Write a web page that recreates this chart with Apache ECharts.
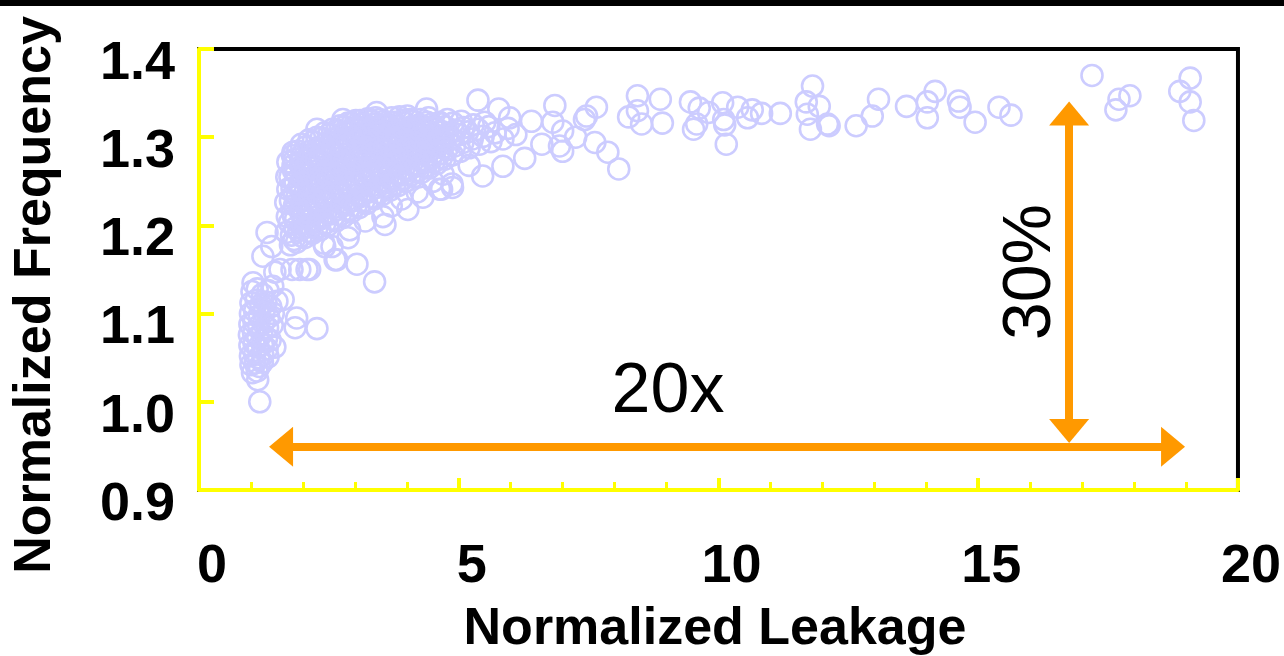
<!DOCTYPE html>
<html>
<head>
<meta charset="utf-8">
<script src="https://cdn.jsdelivr.net/npm/echarts@6/dist/echarts.min.js"></script>
<style>
  html, body { margin: 0; padding: 0; background: #fff; }
  #chart { width: 1284px; height: 656px; }
</style>
</head>
<body>
<div id="chart"></div>
<script>
// Each chip: [normalized leakage, normalized frequency]

// Low-leakage, low-frequency tail
const tailChips = [
  [1.02,1.125],[1.12,1.128],[1.22,1.122],[1.33,1.126],[1.42,1.131],
  [1.00,1.112],[1.10,1.115],[1.19,1.110],[1.29,1.113],[1.38,1.108],[1.50,1.114],[1.62,1.116],
  [0.99,1.100],[1.07,1.103],[1.16,1.098],[1.25,1.101],[1.34,1.096],[1.43,1.100],
  [0.98,1.088],[1.06,1.090],[1.15,1.086],[1.24,1.089],[1.32,1.084],[1.41,1.087],
  [0.97,1.076],[1.05,1.078],[1.13,1.074],[1.21,1.077],[1.30,1.072],[1.37,1.070],
  [0.98,1.064],[1.06,1.066],[1.14,1.062],[1.22,1.065],[1.31,1.060],[1.46,1.062],
  [0.99,1.052],[1.07,1.054],[1.15,1.050],[1.23,1.053],[1.33,1.051],
  [1.00,1.042],[1.08,1.044],[1.16,1.040],[1.22,1.045],
  [1.03,1.033],[1.12,1.035],[1.13,1.025],[1.17,1.000],
  [1.88,1.095],[1.85,1.084],[2.27,1.083]
];

// Main body of the distribution
const mainChips = [
  [1.68,1.192],[1.70,1.210],[1.67,1.226],[1.71,1.241],[1.69,1.255],
  [1.76,1.178],[1.78,1.189],[1.74,1.203],[1.80,1.215],[1.76,1.228],[1.79,1.242],[1.75,1.255],[1.81,1.268],[1.80,1.279],
  [1.88,1.181],[1.92,1.194],[1.86,1.207],[1.94,1.219],[1.89,1.233],[1.93,1.246],[1.87,1.259],[1.95,1.271],[1.90,1.284],
  [2.03,1.186],[2.08,1.198],[2.01,1.211],[2.10,1.224],[2.04,1.237],[2.09,1.250],[2.02,1.263],[2.07,1.276],[2.05,1.289],
  [2.18,1.191],[2.22,1.204],[2.16,1.217],[2.24,1.229],[2.19,1.242],[2.23,1.255],[2.17,1.268],[2.21,1.281],[2.20,1.295],
  [2.33,1.195],[2.37,1.208],[2.31,1.221],[2.39,1.234],[2.34,1.247],[2.38,1.260],[2.32,1.273],[2.36,1.286],[2.35,1.299],
  [2.48,1.200],[2.53,1.213],[2.46,1.226],[2.54,1.238],[2.49,1.251],[2.52,1.264],[2.47,1.277],[2.51,1.290],[2.50,1.303],
  [2.63,1.205],[2.67,1.218],[2.61,1.231],[2.69,1.243],[2.64,1.256],[2.68,1.269],[2.62,1.282],[2.66,1.295],[2.65,1.308],
  [2.78,1.210],[2.82,1.223],[2.76,1.236],[2.84,1.248],[2.79,1.261],[2.83,1.274],[2.77,1.287],[2.81,1.300],[2.80,1.312],
  [2.93,1.215],[2.97,1.228],[2.91,1.241],[2.99,1.253],[2.94,1.266],[2.98,1.279],[2.92,1.292],[2.96,1.305],[2.95,1.316],
  [3.08,1.220],[3.12,1.233],[3.06,1.246],[3.14,1.258],[3.09,1.271],[3.13,1.284],[3.07,1.297],[3.11,1.309],[3.10,1.319],
  [3.23,1.225],[3.27,1.238],[3.21,1.251],[3.29,1.263],[3.24,1.276],[3.28,1.289],[3.22,1.301],[3.26,1.312],[3.25,1.321],
  [3.38,1.230],[3.42,1.243],[3.36,1.256],[3.44,1.268],[3.39,1.281],[3.43,1.293],[3.37,1.305],[3.41,1.315],[3.40,1.322],
  [3.53,1.235],[3.57,1.248],[3.51,1.260],[3.59,1.272],[3.54,1.285],[3.58,1.297],[3.52,1.308],[3.56,1.318],
  [3.68,1.240],[3.72,1.253],[3.66,1.265],[3.74,1.277],[3.69,1.289],[3.73,1.300],[3.67,1.311],[3.71,1.322],
  [3.83,1.245],[3.87,1.257],[3.81,1.269],[3.89,1.281],[3.84,1.292],[3.88,1.303],[3.82,1.313],[3.86,1.323],
  [3.98,1.250],[4.02,1.262],[3.96,1.274],[4.04,1.285],[3.99,1.296],[4.03,1.306],[3.97,1.316],[4.01,1.324],
  [4.13,1.255],[4.17,1.267],[4.11,1.278],[4.19,1.289],[4.14,1.299],[4.18,1.309],[4.12,1.318],
  [4.28,1.260],[4.32,1.272],[4.26,1.283],[4.34,1.293],[4.29,1.303],[4.33,1.312],[4.27,1.320],
  [4.43,1.265],[4.47,1.277],[4.41,1.287],[4.49,1.297],[4.44,1.306],[4.48,1.315],[4.42,1.322],
  [4.58,1.270],[4.62,1.281],[4.56,1.291],[4.64,1.300],[4.59,1.309],[4.63,1.317],
  [4.73,1.275],[4.77,1.286],[4.71,1.295],[4.79,1.304],[4.74,1.312],[4.78,1.320],
  [4.88,1.280],[4.92,1.290],[4.86,1.299],[4.94,1.308],[4.89,1.316],
  [5.03,1.284],[5.08,1.294],[5.01,1.303],[5.09,1.311],[5.05,1.318],
  [5.20,1.288],[5.26,1.298],[5.17,1.306],[5.28,1.314],
  [5.40,1.292],[5.47,1.301],[5.37,1.309],[5.50,1.317],
  [5.62,1.295],[5.70,1.305],[5.58,1.312],
  [5.85,1.298],[5.95,1.310]
];

// Densest part of the main body
const coreChips = [
  [1.83,1.184],[1.85,1.197],[1.82,1.210],[1.84,1.223],[1.83,1.236],[1.85,1.249],[1.82,1.262],[1.84,1.275],
  [1.97,1.188],[1.99,1.201],[1.96,1.214],[1.98,1.228],[1.97,1.241],[1.99,1.254],[1.96,1.267],[1.98,1.280],[1.97,1.292],
  [2.12,1.193],[2.14,1.206],[2.11,1.219],[2.13,1.232],[2.12,1.245],[2.14,1.258],[2.11,1.271],[2.13,1.284],[2.12,1.297],
  [2.27,1.197],[2.29,1.210],[2.26,1.223],[2.28,1.236],[2.27,1.249],[2.29,1.262],[2.26,1.275],[2.28,1.288],[2.27,1.300],
  [2.42,1.202],[2.44,1.215],[2.41,1.228],[2.43,1.241],[2.42,1.254],[2.44,1.267],[2.41,1.280],[2.43,1.293],[2.42,1.305],
  [2.57,1.207],[2.59,1.220],[2.56,1.233],[2.58,1.246],[2.57,1.259],[2.59,1.272],[2.56,1.285],[2.58,1.298],[2.57,1.309],
  [2.72,1.212],[2.74,1.225],[2.71,1.238],[2.73,1.251],[2.72,1.264],[2.74,1.277],[2.71,1.290],[2.73,1.303],[2.72,1.313],
  [2.87,1.217],[2.89,1.230],[2.86,1.243],[2.88,1.256],[2.87,1.269],[2.89,1.282],[2.86,1.295],[2.88,1.307],[2.87,1.316],
  [3.02,1.222],[3.04,1.235],[3.01,1.248],[3.03,1.261],[3.02,1.274],[3.04,1.287],[3.01,1.300],[3.03,1.311],[3.02,1.319],
  [3.17,1.227],[3.19,1.240],[3.16,1.253],[3.18,1.266],[3.17,1.279],[3.19,1.292],[3.16,1.304],[3.18,1.315],
  [3.32,1.232],[3.34,1.245],[3.31,1.258],[3.33,1.271],[3.32,1.284],[3.34,1.296],[3.31,1.308],[3.33,1.318],
  [3.47,1.237],[3.49,1.250],[3.46,1.263],[3.48,1.276],[3.47,1.288],[3.49,1.300],[3.46,1.311],[3.48,1.320],
  [3.62,1.242],[3.64,1.255],[3.61,1.267],[3.63,1.279],[3.62,1.291],[3.64,1.303],[3.61,1.314],
  [3.77,1.247],[3.79,1.259],[3.76,1.271],[3.78,1.283],[3.77,1.295],[3.79,1.306],[3.76,1.317],
  [3.92,1.252],[3.94,1.264],[3.91,1.276],[3.93,1.288],[3.92,1.299],[3.94,1.310],[3.91,1.319],
  [4.07,1.257],[4.09,1.269],[4.06,1.281],[4.08,1.292],[4.07,1.302],[4.09,1.312],[4.06,1.320],
  [4.22,1.262],[4.24,1.274],[4.21,1.285],[4.23,1.295],[4.22,1.305],[4.24,1.314],
  [4.37,1.267],[4.39,1.279],[4.36,1.289],[4.38,1.299],[4.37,1.308],[4.39,1.317],
  [4.52,1.272],[4.54,1.283],[4.51,1.293],[4.53,1.303],[4.52,1.311],
  [4.67,1.277],[4.69,1.288],[4.66,1.297],[4.68,1.306],[4.67,1.315]
];

// Scattered chips below the main body
const lowerFringe = [
  [1.23,1.165],[1.46,1.147],[1.56,1.150],[1.79,1.150],[1.94,1.150],[2.08,1.150],[2.13,1.150],
  [1.31,1.192],[1.40,1.176],[1.04,1.135],
  [2.42,1.176],[2.56,1.176],[2.62,1.161],[2.65,1.161],[2.87,1.186],[3.04,1.156],[3.38,1.136],
  [2.40,1.180],[2.90,1.195],[3.20,1.205],[3.54,1.210],[3.58,1.201],[3.70,1.222],[3.90,1.230],
  [4.02,1.218],[4.20,1.238],[4.31,1.232],[4.50,1.250],[4.63,1.241],[4.70,1.258],[4.87,1.247],[5.20,1.268],
  [1.81,1.283],[1.71,1.272],[2.27,1.309],[2.77,1.320],[3.42,1.328],[4.38,1.332]
];

// High-leakage chips
const fastChips = [
  [5.37,1.342],[5.77,1.332],[5.98,1.322],[6.10,1.303],[6.27,1.276],[5.85,1.267],[5.46,1.256],
  [4.88,1.243],[4.67,1.241],[6.40,1.318],[6.60,1.292],[6.81,1.317],[6.85,1.336],[7.00,1.307],
  [6.94,1.290],[7.00,1.284],[7.25,1.300],[7.42,1.320],[7.46,1.324],[7.65,1.334],[7.62,1.294],
  [7.87,1.283],[8.08,1.264],
  [8.44,1.347],[8.88,1.343],[8.44,1.330],[8.27,1.323],[8.52,1.315],[8.92,1.316],[9.46,1.340],
  [9.63,1.333],[9.58,1.315],[9.52,1.309],[10.08,1.339],[9.81,1.328],[10.10,1.320],[10.12,1.314],
  [10.15,1.292],[10.37,1.334],[10.65,1.331],[10.56,1.322],[10.83,1.327],[11.19,1.327],[11.81,1.358],
  [11.69,1.340],[11.94,1.335],[11.71,1.326],[11.77,1.309],[12.10,1.315],[12.13,1.313],[12.65,1.313],
  [12.96,1.324],[13.08,1.343],[13.62,1.335],
  [14.17,1.352],[14.02,1.340],[14.02,1.322],[14.62,1.341],[14.65,1.334],[14.94,1.317],[15.40,1.334],
  [15.63,1.325],[17.19,1.370],[17.71,1.343],[17.92,1.347],[17.65,1.331],[19.08,1.367],[18.88,1.352],
  [19.08,1.340],[19.15,1.319]
];

// Annotation arrows (leakage spread and frequency spread)
const leakageSpan = [[1.58, 0.949], [18.75, 0.949]];
const frequencySpan = [[16.75, 1.327], [16.75, 0.967]];

const xTicks = { min: 0, max: 20, interval: 5 };
const yTicks = { min: 0.9, max: 1.4, interval: 0.1 };

const allChips = tailChips.concat(mainChips, coreChips, lowerFringe, fastChips);

const FONT = '"Liberation Sans", Arial, Helvetica, sans-serif';
const YELLOW = '#ffff00';
const ORANGE = '#ff9900';
const RING = '#ccccff';

const chart = echarts.init(document.getElementById('chart'), null, { renderer: 'canvas' });

chart.setOption({
  animation: false,
  backgroundColor: '#ffffff',
  grid: {
    left: 199, right: 45, top: 49, bottom: 166,
    show: true, borderColor: '#000', borderWidth: 4, backgroundColor: 'transparent'
  },
  xAxis: {
    type: 'value',
    min: xTicks.min, max: xTicks.max, interval: xTicks.interval,
    axisLine: { show: true, lineStyle: { color: YELLOW, width: 4 } },
    axisTick: { show: true, inside: true, length: 12, lineStyle: { color: YELLOW, width: 4 } },
    minorTick: { show: true, splitNumber: 5, length: 8, lineStyle: { color: YELLOW, width: 3 } },
    splitLine: { show: false },
    axisLabel: {
      color: '#000', fontFamily: FONT, fontWeight: 'bold', fontSize: 54,
      margin: 50, padding: [0, 0, 0, 26]
    }
  },
  yAxis: {
    type: 'value',
    min: yTicks.min, max: yTicks.max, interval: yTicks.interval,
    axisLine: { show: true, lineStyle: { color: YELLOW, width: 4 } },
    axisTick: { show: true, inside: true, length: 15, lineStyle: { color: YELLOW, width: 4 } },
    splitLine: { show: false },
    axisLabel: {
      color: '#000', fontFamily: FONT, fontWeight: 'bold', fontSize: 54,
      margin: 24, lineHeight: 30,
      // an empty first line pushes each value slightly below its tick
      formatter: v => '\n' + v.toFixed(1)
    }
  },
  series: [
    {
      type: 'scatter',
      data: allChips,
      symbol: 'circle',
      symbolSize: 21,
      itemStyle: { color: 'rgba(0,0,0,0)', borderColor: RING, borderWidth: 2.6, opacity: 1 },
      emphasis: { disabled: true },
      silent: true,
      z: 2
    },
    {
      type: 'scatter',
      data: [],
      silent: true,
      z: 3,
      markLine: {
        silent: true,
        symbol: ['triangle', 'triangle'],
        symbolSize: [40, 24],
        label: { show: false },
        lineStyle: { color: ORANGE, width: 8, type: 'solid' },
        itemStyle: { color: ORANGE },
        emphasis: { disabled: true },
        data: [
          [{ coord: leakageSpan[0] }, { coord: leakageSpan[1] }],
          [{ coord: frequencySpan[0] }, { coord: frequencySpan[1] }]
        ]
      }
    }
  ],
  graphic: [
    { type: 'rect', left: 0, top: 0, shape: { width: 1284, height: 6 }, style: { fill: '#000' }, silent: true },
    {
      type: 'text', x: 36, y: 295, rotation: Math.PI / 2, silent: true,
      style: { text: 'Normalized Frequency', font: 'bold 52px ' + FONT, fill: '#000', align: 'center', verticalAlign: 'middle' }
    },
    {
      type: 'text', x: 715, y: 630, silent: true,
      style: { text: 'Normalized Leakage', font: 'bold 52px ' + FONT, fill: '#000', align: 'center', verticalAlign: 'middle' }
    },
    {
      type: 'text', x: 668, y: 393, silent: true,
      style: { text: '20x', font: '70px ' + FONT, fill: '#000', align: 'center', verticalAlign: 'middle' }
    },
    {
      type: 'text', x: 1031, y: 272, rotation: Math.PI / 2, silent: true,
      style: { text: '30%', font: '68px ' + FONT, fill: '#000', align: 'center', verticalAlign: 'middle' }
    }
  ]
});
</script>
</body>
</html>
